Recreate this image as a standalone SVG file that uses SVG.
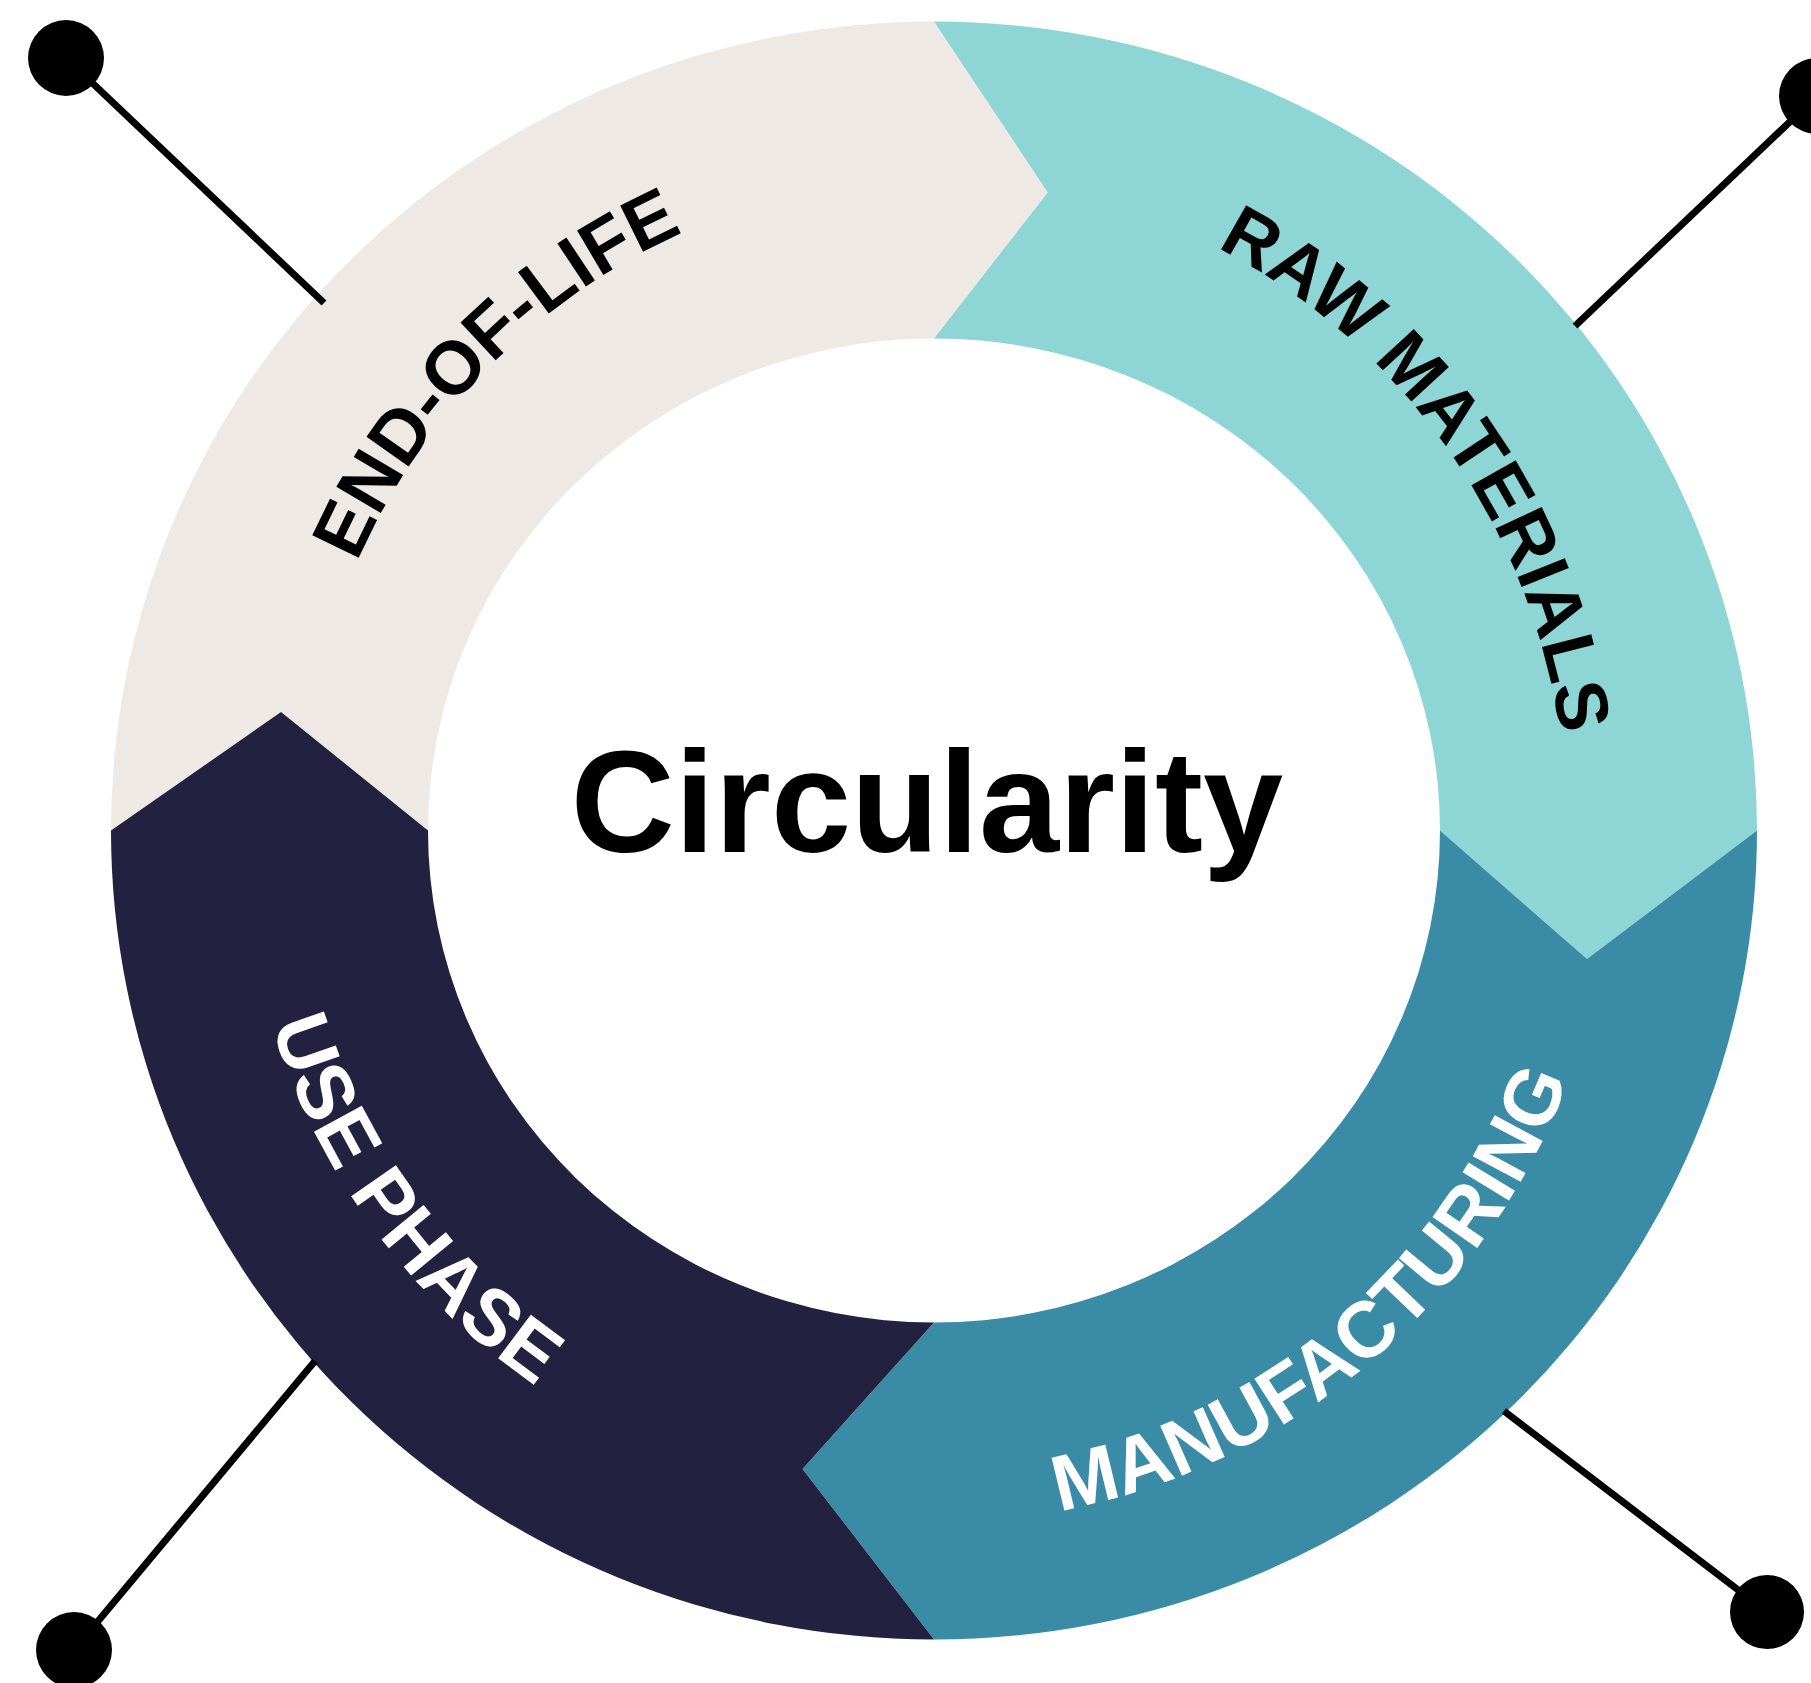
<svg xmlns="http://www.w3.org/2000/svg" width="1811" height="1683" viewBox="0 0 1811 1683">
  <style>
    .lbl { font-family: "Liberation Sans", Arial, sans-serif; font-weight: bold; font-size: 76px; }
    .dark { fill: #000000; }
    .light { fill: #FFFFFF; }
    .conn { stroke: #000000; stroke-width: 7; fill: none; }
    .dot { fill: #000000; }
  </style>
  <defs>
    <path id="pEnd" d="M319.7,988.0 A633.1,651.1 0 0 1 1108.5,204.6"/>
    <path id="pRaw" d="M863.4,183.1 A633.5,651.5 0 0 1 1514.5,1091.3"/>
    <path id="pUse" d="M305.1,548.3 A691.3,679.3 0 0 0 999.7,1506.7"/>
    <path id="pMan" d="M695.8,1479.0 A680.3,692.3 0 0 0 1605.0,716.2"/>
  </defs>
  <rect width="1811" height="1683" fill="#FFFFFF"/>

  <g id="end-of-life">
    <path fill="#EEE9E5" d="M111,830.5 A823,809 0 0 1 934,21.5 L1047.7,192.5 L934,338.5 A506,492 0 0 0 428,830.5 L281,712 Z"/>
    <text class="lbl dark" style="font-size:75px"><textPath href="#pEnd" startOffset="50%" text-anchor="middle">END-OF-LIFE</textPath></text>
  </g>

  <g id="raw-materials">
    <path fill="#8ED5D5" d="M934,21.5 A823,809 0 0 1 1757,830.5 L1587,959 L1440,830.5 A506,492 0 0 0 934,338.5 L1047.7,192.5 Z"/>
    <text class="lbl dark" style="font-size:74px"><textPath href="#pRaw" startOffset="50%" text-anchor="middle">RAW MATERIALS</textPath></text>
  </g>

  <g id="manufacturing">
    <path fill="#3A8BA6" d="M1757,830.5 A823,809 0 0 1 934,1639.5 L802.5,1469 L934,1322.5 A506,492 0 0 0 1440,830.5 L1587,959 Z"/>
    <text class="lbl light" style="font-size:79px"><textPath href="#pMan" startOffset="50%" text-anchor="middle">MANUFACTURING</textPath></text>
  </g>

  <g id="use-phase">
    <path fill="#232140" d="M934,1639.5 A823,809 0 0 1 111,830.5 L281,712 L428,830.5 A506,492 0 0 0 934,1322.5 L802.5,1469 Z"/>
    <text class="lbl light" style="font-size:79px"><textPath href="#pUse" startOffset="50%" text-anchor="middle">USE PHASE</textPath></text>
  </g>

  <g id="center">
    <text x="927" y="852" text-anchor="middle" font-family="'Liberation Sans', Arial, sans-serif" font-weight="bold" font-size="144" fill="#000000">Circularity</text>
  </g>

  <g id="connectors">
    <line class="conn" x1="66" y1="58" x2="324" y2="303"/>
    <circle class="dot" cx="66" cy="58" r="38"/>
    <line class="conn" x1="1817" y1="96" x2="1575" y2="326"/>
    <circle class="dot" cx="1817" cy="96" r="38"/>
    <line class="conn" x1="74" y1="1650" x2="315" y2="1361"/>
    <circle class="dot" cx="74" cy="1650" r="38"/>
    <line class="conn" x1="1767" y1="1612" x2="1504" y2="1411"/>
    <circle class="dot" cx="1767" cy="1612" r="37"/>
  </g>
</svg>
